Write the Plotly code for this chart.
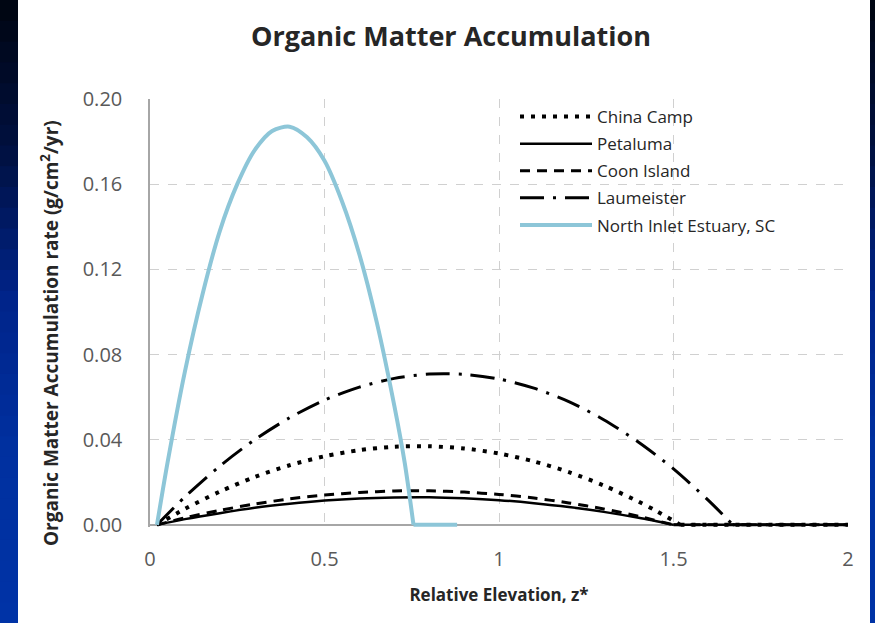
import plotly.graph_objects as go

# ---- data ----
x_north = [0.02, 0.05, 0.1, 0.15, 0.2, 0.25, 0.3, 0.35, 0.4, 0.45, 0.5, 0.55, 0.6, 0.65, 0.7, 0.73, 0.755, 0.88]
y_north = [0.0, 0.029, 0.072, 0.108, 0.138, 0.160, 0.176, 0.185, 0.187, 0.182, 0.171, 0.152, 0.127, 0.095, 0.056, 0.029, 0.0, 0.0]

x_laum = [0.02, 0.1, 0.2, 0.3, 0.4, 0.5, 0.6, 0.7, 0.8, 0.9, 1.0, 1.1, 1.2, 1.3, 1.4, 1.5, 1.6, 1.67, 2.0]
y_laum = [0.0, 0.0131, 0.0276, 0.0400, 0.0503, 0.0586, 0.0647, 0.0688, 0.0708, 0.0707, 0.0685, 0.0642, 0.0579, 0.0494, 0.0388, 0.0263, 0.0115, 0.0, 0.0]

x_china = [0.02, 0.1, 0.2, 0.3, 0.4, 0.5, 0.6, 0.7, 0.8, 0.9, 1.0, 1.1, 1.2, 1.3, 1.4, 1.45, 1.52, 2.0]
y_china = [0.0, 0.0075, 0.0156, 0.0225, 0.0280, 0.0322, 0.0351, 0.0367, 0.0369, 0.0359, 0.0335, 0.0298, 0.0248, 0.0185, 0.0109, 0.0066, 0.0, 0.0]

x_coon = [0.02, 0.1, 0.2, 0.3, 0.4, 0.5, 0.6, 0.7, 0.8, 0.9, 1.0, 1.1, 1.2, 1.3, 1.4, 1.5, 2.0]
y_coon = [0.0, 0.0033, 0.0068, 0.0098, 0.0122, 0.0140, 0.0152, 0.0159, 0.0160, 0.0154, 0.0143, 0.0126, 0.0103, 0.0075, 0.0040, 0.0, 0.0]

x_petal = [0.02, 0.1, 0.2, 0.3, 0.4, 0.5, 0.6, 0.7, 0.8, 0.9, 1.0, 1.1, 1.2, 1.3, 1.4, 1.5, 2.0]
y_petal = [0.0, 0.0027, 0.0055, 0.0080, 0.0099, 0.0114, 0.0124, 0.0129, 0.0130, 0.0125, 0.0116, 0.0102, 0.0084, 0.0061, 0.0033, 0.0, 0.0]

x_ticks = [0, 0.5, 1, 1.5, 2]
x_tick_labels = ["0", "0.5", "1", "1.5", "2"]
y_ticks = [0.0, 0.04, 0.08, 0.12, 0.16, 0.20]
y_tick_labels = ["0.00", "0.04", "0.08", "0.12", "0.16", "0.20"]

FONT = "Open Sans"

series = [
    ("China Camp", x_china, y_china, dict(color="black", width=4, dash="4px,7px")),
    ("Petaluma", x_petal, y_petal, dict(color="black", width=2.5)),
    ("Coon Island", x_coon, y_coon, dict(color="black", width=3, dash="10px,7px")),
    ("Laumeister", x_laum, y_laum, dict(color="black", width=3, dash="24px,9px,3px,9px")),
    ("North Inlet Estuary, SC", x_north, y_north, dict(color="#8dc6d8", width=4)),
]

fig = go.Figure()
for i, (name, xs, ys, ln) in enumerate(series):
    grp = "g%d" % i
    # curved part (smoothed), then flat tail at zero
    fig.add_trace(go.Scatter(x=xs[:-1], y=ys[:-1], mode="lines", name=name, legendgroup=grp,
                             line=dict(**ln, shape="spline", smoothing=0.8)))
    fig.add_trace(go.Scatter(x=xs[-2:], y=ys[-2:], mode="lines", name=name, legendgroup=grp,
                             showlegend=False, line=dict(**ln)))

# background side bands with vertical gradient
W, H = 875, 623
L, R, T, B = 150, 27, 99, 96
YMIN = -0.001
pw, ph = W - L - R, H - T - B
def px2x(p):
    return (p - L) / pw
def py2y(p):
    return 1 - (p - T) / ph

stops = [(0, (0, 5, 16)), (150, (0, 16, 64)), (300, (0, 36, 138)), (450, (0, 48, 159)), (623, (0, 51, 166))]
def col(yp):
    for (a, ca), (b, cb) in zip(stops[:-1], stops[1:]):
        if a <= yp <= b:
            t = (yp - a) / (b - a)
            return "rgb(%d,%d,%d)" % tuple(round(ca[i] + t * (cb[i] - ca[i])) for i in range(3))
    return "rgb(0,51,166)"

shapes = []
n = 30
for i in range(n):
    y0p = H * i / n
    y1p = H * (i + 1) / n + 1
    c = col((y0p + y1p) / 2)
    for (xa, xb) in [(0, 18), (870, 876)]:
        shapes.append(dict(type="rect", xref="paper", yref="paper",
                           x0=px2x(xa), x1=px2x(xb), y0=py2y(y1p), y1=py2y(y0p),
                           fillcolor=c, line=dict(width=0), layer="below"))

fig.update_layout(
    width=W, height=H,
    margin=dict(l=L, r=R, t=T, b=B),
    paper_bgcolor="white", plot_bgcolor="white",
    shapes=shapes,
    title=dict(text="<b>Organic Matter Accumulation</b>", x=px2x(451), xref="paper", xanchor="center",
               y=1 - 37 / H, yanchor="middle",
               font=dict(family=FONT, size=27, color="#262626")),
    font=dict(family=FONT),
    showlegend=True,
    legend=dict(x=px2x(515), y=py2y(99), xanchor="left", yanchor="top",
                bgcolor="rgba(255,255,255,0)", font=dict(family=FONT, size=17, color="#262626"),
                tracegroupgap=2, itemwidth=72, traceorder="grouped"),
    xaxis=dict(range=[0, 2], tickvals=x_ticks, ticktext=x_tick_labels,
               showgrid=True, gridcolor="#d0d0d0", griddash="dash", gridwidth=1,
               zeroline=False, showline=False,
               ticks="", ticklabelstandoff=18,
               tickfont=dict(family=FONT, size=20, color="#595959"),
               title=dict(text="<b>Relative Elevation, z*</b>", standoff=18,
                          font=dict(family=FONT, size=17, color="#262626"))),
    yaxis=dict(range=[YMIN, 0.2], tickvals=y_ticks, ticktext=y_tick_labels,
               showgrid=True, gridcolor="#d0d0d0", griddash="dash", gridwidth=1,
               zeroline=True, zerolinecolor="#a6a6a6", zerolinewidth=1.5,
               showline=True, linecolor="#a6a6a6", linewidth=1.5,
               ticks="", ticklabelstandoff=22,
               tickfont=dict(family=FONT, size=20, color="#595959")),
    annotations=[dict(text="<b>Organic Matter Accumulation rate (g/cm<sup>2</sup>/yr)</b>",
                      xref="paper", yref="paper", x=px2x(50), y=py2y(333),
                      xanchor="center", yanchor="middle", textangle=-90, showarrow=False,
                      font=dict(family=FONT, size=19, color="#262626"))],
)

fig.write_html("out.html", post_script="document.body.style.margin='0px';",
               config={"displayModeBar": False})
